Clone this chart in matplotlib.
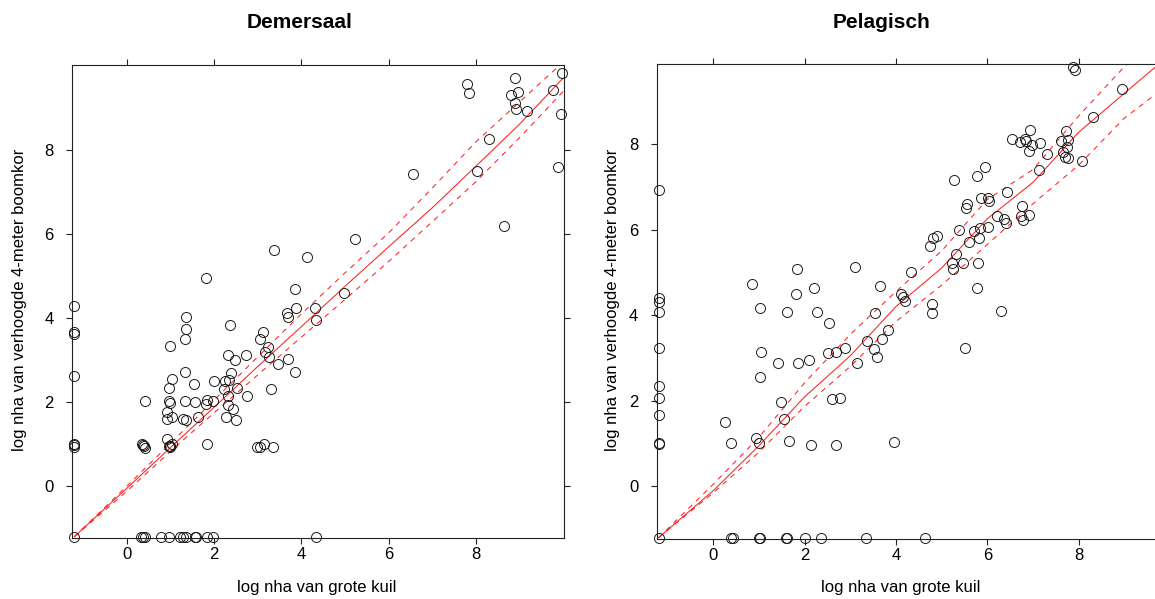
import matplotlib
matplotlib.use("Agg")
import matplotlib.pyplot as plt

plt.rcParams['font.family'] = ['Liberation Sans', 'DejaVu Sans']

# Demersaal: log nha grote kuil (x) vs verhoogde 4-meter boomkor (y)
dem_x = [-1.2, -1.2, -1.2, -1.2, -1.2, -1.2, -1.2, -1.2,
         0.36, 0.40, 0.42, 0.38, 0.42, 0.33, 0.38, 0.42,
         0.92, 0.98, 1.00, 1.03, 0.99, 0.99, 0.98, 1.03, 0.98, 0.99, 0.92, 0.92, 1.03, 0.79, 0.98,
         1.35, 1.37, 1.34, 1.34, 1.34, 1.28, 1.36, 1.55, 1.57, 1.64, 1.83, 1.83, 1.81, 1.98, 2.00, 1.82,
         1.22, 1.30, 1.36, 1.57, 1.60, 1.83, 1.98,
         2.37, 2.33, 2.49, 2.73, 2.39, 2.25, 2.34, 2.24, 2.52, 2.33, 2.33, 2.43, 2.27, 2.50, 2.75,
         3.05, 3.13, 3.24, 3.16, 3.27, 3.46, 3.31, 2.98, 3.05, 3.15, 3.36, 3.67, 3.69, 3.89, 4.31,
         4.34, 3.69, 3.86, 3.86, 3.38, 4.13, 4.33,
         4.98, 5.23, 6.57, 7.79, 7.85, 8.02, 8.31, 8.64, 8.89, 8.81, 8.97, 8.90, 8.93, 9.17, 9.77,
         9.96, 9.88, 9.97]
dem_y = [4.30, 3.68, 3.62, 2.63, 1.02, 0.98, 0.94, -1.2,
         1.00, 0.95, 0.92, 0.98, 2.04, -1.2, -1.2, -1.2,
         1.12, 0.97, 0.93, 1.02, 0.96, 3.34, 2.33, 2.55, 2.03, 1.98, 1.77, 1.60, 1.66, -1.2, -1.2,
         4.02, 3.75, 3.52, 2.72, 2.03, 1.60, 1.57, 2.44, 2.01, 1.66, 1.02, 2.05, 1.96, 2.04, 2.52, 4.97,
         -1.2, -1.2, -1.2, -1.2, -1.2, -1.2, -1.2,
         3.83, 3.13, 3.01, 3.12, 2.71, 2.52, 2.53, 2.32, 2.33, 2.15, 1.94, 1.84, 1.64, 1.58, 2.15,
         3.52, 3.67, 3.31, 3.20, 3.09, 2.91, 2.32, 0.94, 0.93, 1.02, 0.94, 4.12, 4.02, 4.24, 4.24,
         3.96, 3.03, 2.72, 4.70, 5.62, 5.47, -1.2,
         4.60, 5.89, 7.43, 9.57, 9.36, 7.50, 8.26, 6.20, 9.72, 9.32, 9.38, 9.12, 8.98, 8.94, 9.43,
         8.86, 7.60, 9.83]

dem_fit_x = [-1.2, 0, 1, 2, 3, 4, 5, 6, 7, 8, 9, 10]
dem_fit = [-1.2, -0.05, 0.92, 1.88, 2.85, 3.80, 4.76, 5.70, 6.63, 7.62, 8.62, 9.72]
dem_hi = [-1.2, 0.00, 1.02, 2.05, 3.08, 4.10, 5.08, 6.03, 7.10, 8.20, 9.15, 10.10]
dem_lo = [-1.2, -0.12, 0.83, 1.75, 2.65, 3.55, 4.45, 5.35, 6.30, 7.25, 8.30, 9.40]

# Pelagisch
pel_x = [-1.2, -1.2, -1.2, -1.2, -1.2, -1.2, -1.2, -1.2, -1.2, -1.2, -1.2,
         0.26, 0.38, 0.85, 0.93, 1.01, 1.02, 1.04, 1.02, 1.41, 1.48, 1.55, 1.61, 1.66, 1.80, 1.84, 1.85,
         2.10, 2.15, 2.21, 2.26, 2.52, 2.54, 2.61, 2.69, 2.69, 2.78, 2.89,
         3.11, 3.15, 3.37, 3.52, 3.54, 3.58, 3.64, 3.70, 3.82, 3.96,
         4.10, 4.16, 4.19, 4.34, 4.74, 4.79, 4.80, 4.82, 4.89,
         5.22, 5.26, 5.28, 5.31, 5.39, 5.47, 5.52, 5.53, 5.56, 5.61, 5.71, 5.78, 5.78, 5.80, 5.83,
         5.85, 5.86, 5.96, 6.01, 6.01, 6.04,
         6.22, 6.29, 6.37, 6.42, 6.44, 6.55, 6.72, 6.74, 6.77, 6.78, 6.82, 6.85, 6.91, 6.92, 6.94, 6.98,
         7.13, 7.15, 7.31, 7.61, 7.65, 7.71, 7.72, 7.74, 7.77, 7.77, 7.87, 7.93, 8.08, 8.31, 8.96,
         0.38, 0.43, 1.00, 1.02, 1.60, 1.62, 2.00, 2.35, 3.34, 4.64]
pel_y = [6.92, 4.39, 4.31, 4.08, 3.24, 2.34, 2.06, 1.67, 1.01, 0.99, -1.2,
         1.50, 1.01, 4.72, 1.12, 1.01, 4.16, 3.14, 2.55, 2.89, 1.97, 1.57, 4.07, 1.06, 4.49, 5.08, 2.89,
         2.94, 0.96, 4.64, 4.07, 3.12, 3.81, 2.04, 3.14, 0.96, 2.06, 3.24,
         5.12, 2.87, 3.40, 3.21, 4.06, 3.02, 4.68, 3.45, 3.65, 1.04,
         4.49, 4.42, 4.34, 5.01, 5.61, 4.06, 4.26, 5.79, 5.85,
         5.22, 5.07, 7.16, 5.43, 5.99, 5.21, 3.24, 6.50, 6.60, 5.70, 5.97, 4.64, 7.25, 5.22, 5.79,
         6.04, 6.74, 7.45, 6.07, 6.74, 6.67,
         6.32, 4.10, 6.24, 6.16, 6.88, 8.11, 8.04, 6.32, 6.56, 6.22, 8.11, 8.07, 6.34, 7.84, 8.32, 7.97,
         7.39, 8.01, 7.76, 8.07, 7.80, 7.69, 8.31, 7.93, 8.09, 7.66, 9.80, 9.73, 7.60, 8.62, 9.28,
         -1.2, -1.2, -1.2, -1.2, -1.2, -1.2, -1.2, -1.2, -1.2, -1.2]

pel_fit_x = [-1.2, 0, 1, 2, 3, 4, 5, 6, 7, 8, 9, 9.8]
pel_fit = [-1.2, -0.10, 0.95, 2.09, 3.05, 4.20, 5.10, 6.25, 7.10, 8.27, 9.18, 9.90]
pel_hi = [-1.2, 0.05, 1.15, 2.42, 3.55, 4.55, 5.50, 6.70, 7.40, 8.65, 9.80, 10.50]
pel_lo = [-1.2, -0.15, 0.80, 1.87, 2.80, 3.85, 4.70, 5.65, 6.60, 7.50, 8.60, 9.25]

fig = plt.figure(figsize=(11.55, 5.99), dpi=100)
ax1 = fig.add_axes([0.0623, 0.1018, 0.4260, 0.7896])
ax2 = fig.add_axes([0.5686, 0.1002, 0.4340, 0.7925])

panels = [
    (ax1, dem_x, dem_y, dem_fit_x, dem_fit, dem_hi, dem_lo, (-1.253, 10.02), (-1.23, 10.03)),
    (ax2, pel_x, pel_y, pel_fit_x, pel_fit, pel_hi, pel_lo, (-1.24, 9.74), (-1.23, 9.86)),
]

for ax, xs, ys, fx, fc, fh, fl, xl, yl in panels:
    ax.plot(xs, ys, 'o', ms=7.2, mfc='none', mec='#1a1a1a', mew=0.7, clip_on=False, zorder=3)
    ax.plot(fx, fc, color='#ff2020', lw=0.75, zorder=2)
    ax.plot(fx, fh, color='#ff2020', lw=0.75, dashes=(5, 5), zorder=2)
    ax.plot(fx, fl, color='#ff2020', lw=0.75, dashes=(5, 5), zorder=2)
    ax.set_xlim(*xl)
    ax.set_ylim(*yl)
    ax.set_xticks([0, 2, 4, 6, 8])
    ax.set_yticks([0, 2, 4, 6, 8])
    ax.tick_params(direction='out', length=4.3, width=0.8, top=True, right=True,
                   labeltop=False, labelright=False, labelsize=12, pad=2, colors='#222222',
                   labelcolor='black')
    ax.tick_params(axis='y', pad=9)
    for s in ax.spines.values():
        s.set_linewidth(0.8)
        s.set_color('#222222')

fig.text(0.2597, 0.963, 'Demersaal', ha='center', va='center', fontsize=15, fontweight='bold')
fig.text(0.7628, 0.963, 'Pelagisch', ha='center', va='center', fontsize=15, fontweight='bold')
fig.text(0.2745, 0.02, 'log nha van grote kuil', ha='center', va='center', fontsize=12)
fig.text(0.7800, 0.02, 'log nha van grote kuil', ha='center', va='center', fontsize=12)
fig.text(0.0165, 0.499, 'log nha van verhoogde 4-meter boomkor', ha='center', va='center',
         rotation=90, fontsize=12)
fig.text(0.5305, 0.499, 'log nha van verhoogde 4-meter boomkor', ha='center', va='center',
         rotation=90, fontsize=12)

fig.savefig('out.png', dpi=100)
